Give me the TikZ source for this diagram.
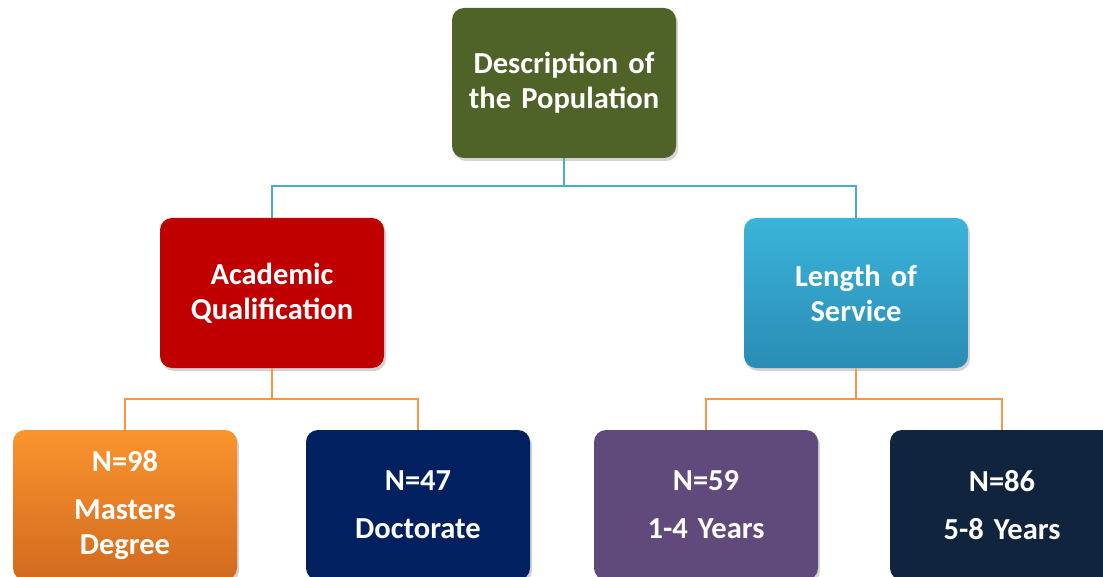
\documentclass[tikz,border=0pt]{standalone}
\usepackage{fontspec}
\setmainfont{Carlito}
\usetikzlibrary{positioning, shadows}

\definecolor{olivebox}{HTML}{4F6228}
\definecolor{redbox}{HTML}{C00000}
\definecolor{navybox}{HTML}{002060}
\definecolor{purplebox}{HTML}{604A7B}
\definecolor{darkbox}{HTML}{10243E}
\definecolor{skytop}{HTML}{3AB4DA}
\definecolor{skybottom}{HTML}{2A8CB4}
\definecolor{orangetop}{HTML}{FA942E}
\definecolor{orangebottom}{HTML}{D26A1E}
\definecolor{bluelink}{HTML}{4BACC6}
\definecolor{orangelink}{HTML}{F79646}

\begin{document}
\begin{tikzpicture}[x=1pt, y=-1pt]
	\tikzset{box/.style={rounded corners=12pt, minimum width=224pt, minimum height=150pt, text width=214pt, align=center, text=white, font=\bfseries\fontsize{30.5}{35}\selectfont, drop shadow={opacity=0.35, shadow xshift=2pt, shadow yshift=-3pt}},
		blueline/.style={draw=bluelink, line width=2pt},
		orangeline/.style={draw=orangelink, line width=2pt}}
	
	\useasboundingbox (0,0) rectangle (1103,577);
	\clip (0,0) rectangle (1103,577);
	
	\node[box, fill=olivebox] (pop) at (564,83) {Description of\\the Population};
	\node[box, fill=redbox] (acad) at (272,293) {Academic\\Qualification};
	\node[box, top color=skytop, bottom color=skybottom] (serv) at (856,293) {Length of\\Service};
	
	\node[box, top color=orangetop, bottom color=orangebottom] (mast) at (125,505) {N=98\\[13pt]Masters\\Degree};
	\node[box, fill=navybox] (doct) at (418,505) {N=47\\[13pt]Doctorate};
	\node[box, fill=purplebox] (short) at (706,505) {N=59\\[13pt]1-4 Years};
	\node[box, fill=darkbox] (long) at (1002,505) {N=86\\[13pt]5-8 Years};
	
	\draw[blueline] (pop.south) -- ++(0,28) -| (acad.north);
	\draw[blueline] (pop.south) -- ++(0,28) -| (serv.north);
	\draw[orangeline] (acad.south) -- ++(0,31) -| (mast.north);
	\draw[orangeline] (acad.south) -- ++(0,31) -| (doct.north);
	\draw[orangeline] (serv.south) -- ++(0,31) -| (short.north);
	\draw[orangeline] (serv.south) -- ++(0,31) -| (long.north);
\end{tikzpicture}
\end{document}
